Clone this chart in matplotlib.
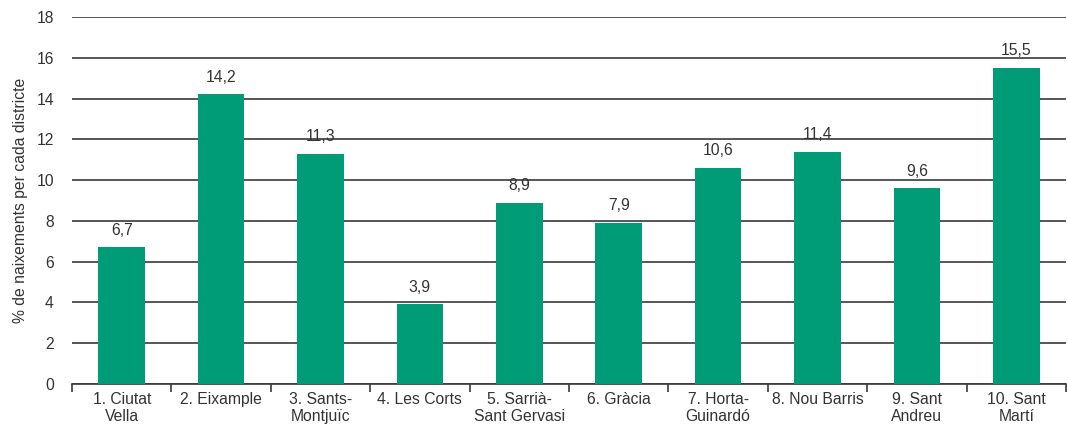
import matplotlib
matplotlib.use("Agg")
import matplotlib.pyplot as plt
import numpy as np

categories = ["1. Ciutat\nVella", "2. Eixample", "3. Sants-\nMontjuïc", "4. Les Corts",
              "5. Sarrià-\nSant Gervasi", "6. Gràcia", "7. Horta-\nGuinardó",
              "8. Nou Barris", "9. Sant\nAndreu", "10. Sant\nMartí"]
values = [6.7, 14.2, 11.3, 3.9, 8.9, 7.9, 10.6, 11.4, 9.6, 15.5]
value_labels = ["6,7", "14,2", "11,3", "3,9", "8,9", "7,9", "10,6", "11,4", "9,6", "15,5"]
yticks = [0, 2, 4, 6, 8, 10, 12, 14, 16, 18]

plt.rcParams['font.family'] = ['Liberation Sans', 'DejaVu Sans']
text_color = "#333333"
bar_color = "#009B77"
fs = 11.3

fig = plt.figure(figsize=(10.68, 4.30), dpi=100)
ax = fig.add_axes([72/1068, 46/430, (1066-72)/1068, (384-17)/430])

x = np.arange(len(categories))
ax.bar(x, values, width=0.47, color=bar_color, zorder=3)
for xi, v, lab in zip(x, values, value_labels):
    ax.annotate(lab, (xi, v), xytext=(0, 7), textcoords="offset points",
                ha="center", va="bottom", fontsize=fs, color=text_color)

ax.set_xlim(-0.5, len(categories) - 0.5)
ax.set_ylim(0, 18)
ax.set_yticks(yticks)
ax.set_yticklabels([str(t) for t in yticks], fontsize=fs, color=text_color)
ax.tick_params(axis="y", length=0, pad=13)
ax.yaxis.grid(True, color="#3a3a3a", linewidth=1.2, zorder=0)
ax.set_axisbelow(True)

ax.set_xticks(x)
ax.set_xticklabels(categories, fontsize=fs, color=text_color, linespacing=1.1)
ax.tick_params(axis="x", which="major", length=0, pad=6)
ax.set_xticks(np.arange(-0.5, len(categories)), minor=True)
ax.tick_params(axis="x", which="minor", length=6, width=1.2, color="#3a3a3a")

for s in ["top", "right", "left"]:
    ax.spines[s].set_visible(False)
ax.spines["bottom"].set_color("#3a3a3a")
ax.spines["bottom"].set_linewidth(1.2)

ax.set_ylabel("% de naixements per cada districte", fontsize=fs, color=text_color, labelpad=6)

fig.savefig("out.png", dpi=100)
